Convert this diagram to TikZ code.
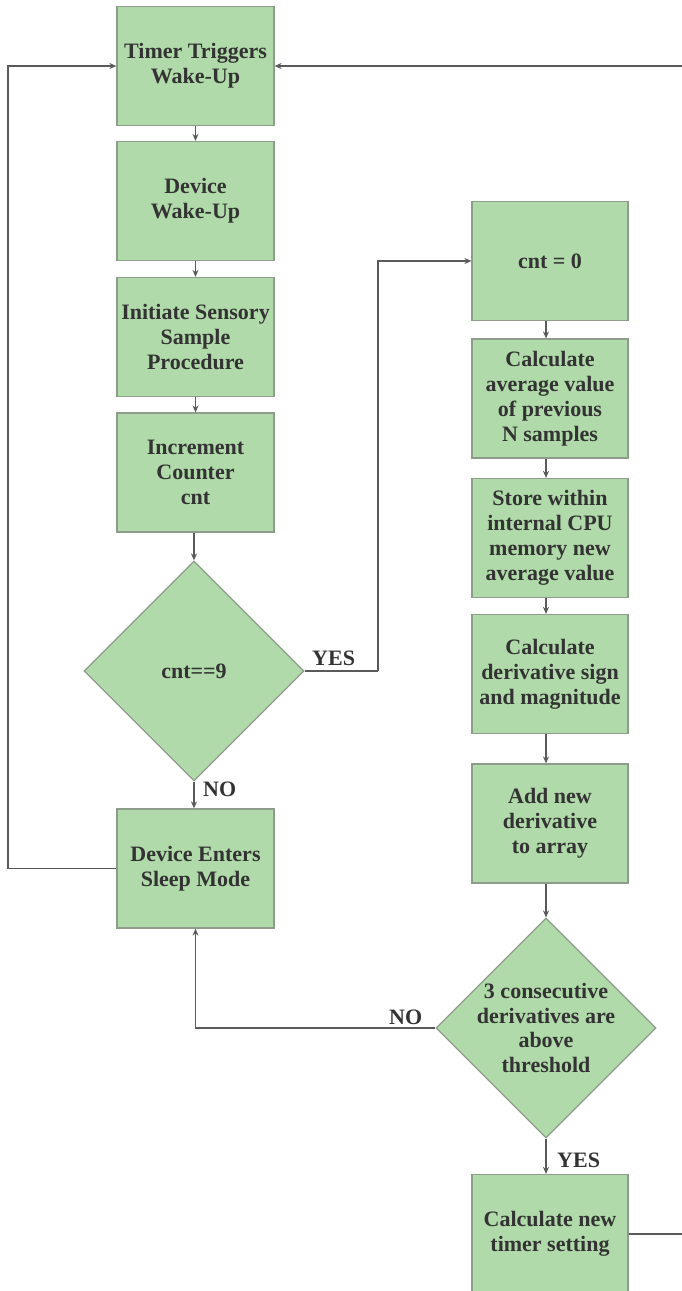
\documentclass[tikz,border=0pt]{standalone}
\usepackage{fontspec}
\setmainfont{Liberation Serif}
\usetikzlibrary{shapes.geometric,arrows.meta}

\definecolor{boxfill}{HTML}{B0DAA9}
\definecolor{boxedge}{HTML}{8E9C8B}
\definecolor{wire}{HTML}{5A5A5A}
\definecolor{ink}{HTML}{333333}

\tikzset{
  procbox/.style={rectangle, draw=boxedge, fill=boxfill, line width=1.2pt,
    minimum width=157, minimum height=119, inner sep=0pt,
    align=center, text=ink, font=\bfseries\fontsize{22}{25}\selectfont},
  decbox/.style={diamond, aspect=1, draw=boxedge, fill=boxfill, line width=1.2pt,
    minimum width=220, minimum height=220, inner sep=0pt},
  dectext/.style={align=center, text=ink, font=\bfseries\fontsize{22}{24.5}\selectfont},
  branch/.style={text=ink, font=\bfseries\fontsize{22}{25}\selectfont, inner sep=0pt},
  flow/.style={draw=wire, line width=1.3pt, -{Stealth[length=7pt,width=6pt]}},
  plain/.style={draw=wire, line width=1.3pt}
}

\begin{document}
\begin{tikzpicture}[x=1pt,y=-1pt]
\useasboundingbox (0,0) rectangle (681,1291);

% left column: wake-up cycle
\node[procbox] (wake)  at (195.5,66)  {Timer Triggers\\Wake-Up};
\node[procbox] (dev)   at (195.5,201) {Device\\Wake-Up};
\node[procbox] (samp)  at (195.5,337) {Initiate Sensory\\Sample\\Procedure};
\node[procbox] (inc)   at (195.5,472.5) {Increment\\Counter\\cnt};
\node[decbox]  (chk)   at (194,671) {};
\node[dectext] at (chk) {cnt==9};
\node[procbox] (sleep) at (195.5,868.5) {Device Enters\\Sleep Mode};

% right column: evaluation branch
\node[procbox, minimum width=156] (reset) at (550,261)   {cnt = 0};
\node[procbox, minimum width=156] (avg)   at (550,398.5) {Calculate\\average value\\of previous\\N samples};
\node[procbox, minimum width=156] (store) at (550,538)   {Store within\\internal CPU\\memory new\\average value};
\node[procbox, minimum width=156] (deriv) at (550,674)   {Calculate\\derivative sign\\and magnitude};
\node[procbox, minimum width=156] (add)   at (550,823.5) {Add new\\derivative\\to array};
\node[decbox]  (thr)   at (546,1028) {};
\node[dectext] at (thr) {3 consecutive\\derivatives are\\above\\threshold};
\node[procbox, minimum width=156] (timer) at (550,1234) {Calculate new\\timer setting};

% helper points for the loop-back wires
\coordinate (lbend) at (8,868.5);
\coordinate (ybend) at (378,671);
\coordinate (rbend) at (686,1234);

% main sequence
\draw[flow] (wake) -- (dev);
\draw[flow] (dev) -- (samp);
\draw[flow] (samp) -- (inc);
\draw[flow] (inc.south -| chk.north) -- (chk.north);
\draw[flow] (chk.south) -- (sleep.north -| chk.south);
\draw[flow] (sleep.west) -- (lbend) |- (wake.west);

% counter reached: evaluate samples
\draw[plain] (chk.east) -- (ybend);
\draw[flow] (ybend) |- (reset.west);
\draw[flow] (reset.south -| thr.north) -- (avg.north -| thr.north);
\draw[flow] (avg.south -| thr.north) -- (store.north -| thr.north);
\draw[flow] (store.south -| thr.north) -- (deriv.north -| thr.north);
\draw[flow] (deriv.south -| thr.north) -- (add.north -| thr.north);
\draw[flow] (add.south -| thr.north) -- (thr.north);
\draw[flow] (thr.west) -| (sleep.south);
\draw[flow] (thr.south) -- (timer.north -| thr.south);
\draw[flow] (timer.east) -- (rbend) |- (wake.east);

% branch labels
\node[branch, anchor=west] (yes1) at (312,658.5) {YES};
\node[branch, anchor=west] (no1)  at (203,789) {NO};
\node[branch, anchor=west] (no2)  at (389,1017) {NO};
\node[branch, anchor=west] (yes2) at (557,1160) {YES};
\end{tikzpicture}
\end{document}
